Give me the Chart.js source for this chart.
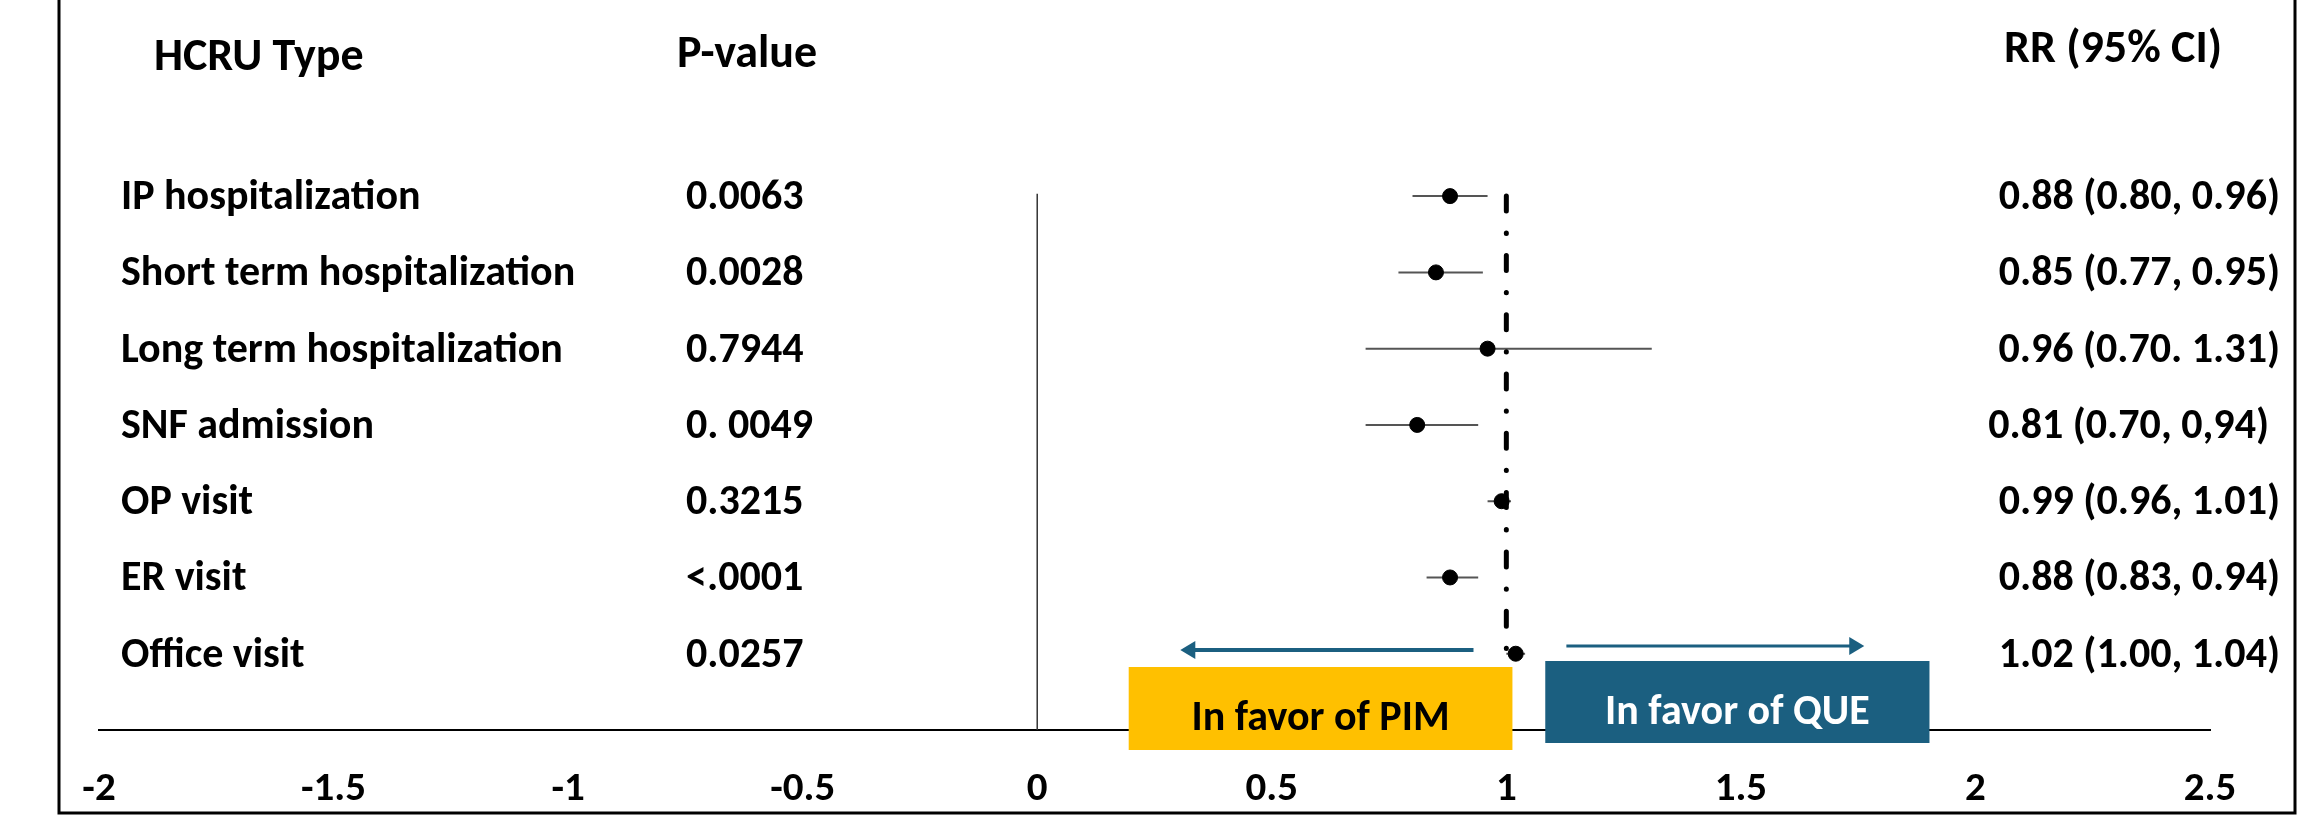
<!DOCTYPE html>
<html>
<head>
<meta charset="utf-8">
<script src="https://cdn.jsdelivr.net/npm/chart.js@4/dist/chart.umd.min.js"></script>
<style>
  html, body { margin: 0; padding: 0; background: #fff; }
  #wrap { width: 2305px; height: 828px; position: relative; }
</style>
</head>
<body>
<div id="wrap"><canvas id="myChart"></canvas></div>
<script>
// data
var categories = ['IP hospitalization', 'Short term hospitalization', 'Long term hospitalization',
                  'SNF admission', 'OP visit', 'ER visit', 'Office visit']
var pValues = ['0.0063', '0.0028', '0.7944', '0. 0049', '0.3215', '<.0001', '0.0257']
var rr = [0.88, 0.85, 0.96, 0.81, 0.99, 0.88, 1.02]
var ciLow = [0.80, 0.77, 0.70, 0.70, 0.96, 0.83, 1.00]
var ciHigh = [0.96, 0.95, 1.31, 0.94, 1.01, 0.94, 1.04]
var rrLabels = ['0.88 (0.80, 0.96)', '0.85 (0.77, 0.95)', '0.96 (0.70. 1.31)', '0.81 (0.70, 0,94)',
                '0.99 (0.96, 1.01)', '0.88 (0.83, 0.94)', '1.02 (1.00, 1.04)']
var xTicks = [-2, -1.5, -1, -0.5, 0, 0.5, 1, 1.5, 2, 2.5]

var FONT = 'Carlito, Calibri, Lato, sans-serif'
var teal = '#1b5f80'

var datasets = []
// point estimates (first so they draw on top)
datasets.push({
    label: 'RR',
    data: rr.map(function(v, i) { return {x: v, y: i} }),
    backgroundColor: '#000',
    borderColor: '#000',
    pointRadius: 7.5,
    pointHoverRadius: 7.5
})
// reference line at RR = 1 (dash-dot)
datasets.push({
    label: 'ref',
    data: [{x: 1, y: 0}, {x: 1, y: 6}],
    showLine: true,
    borderColor: '#000',
    borderWidth: 5,
    borderCapStyle: 'round',
    borderDash: [15, 22, 0.3, 22],
    pointRadius: 0
})
// confidence intervals
for (var i = 0; i < categories.length; i++) {
    datasets.push({
        label: 'ci' + i,
        data: [{x: ciLow[i], y: i}, {x: ciHigh[i], y: i}],
        showLine: true,
        borderColor: '#555',
        borderWidth: 2,
        pointRadius: 0
    })
}
// vertical line at 0
datasets.push({
    label: 'zero',
    data: [{x: 0, y: -0.03}, {x: 0, y: 7}],
    showLine: true,
    borderColor: '#333',
    borderWidth: 1.5,
    pointRadius: 0
})

function arrow(ctx, x1, x2, y, w) {
    // shaft from x1 to x2, head at x2
    var dir = x2 > x1 ? 1 : -1
    ctx.save()
    ctx.strokeStyle = teal
    ctx.fillStyle = teal
    ctx.lineWidth = w
    ctx.beginPath()
    ctx.moveTo(x1, y)
    ctx.lineTo(x2 - dir * 12, y)
    ctx.stroke()
    ctx.beginPath()
    ctx.moveTo(x2, y)
    ctx.lineTo(x2 - dir * 15, y - 9)
    ctx.lineTo(x2 - dir * 15, y + 9)
    ctx.closePath()
    ctx.fill()
    ctx.restore()
}

var tablePlugin = {
    id: 'table',
    afterDatasetsDraw: function(chart) {
        var ctx = chart.ctx
        var xs = chart.scales.x
        var ys = chart.scales.y
        ctx.save()
        ctx.fillStyle = '#000'
        ctx.textBaseline = 'alphabetic'

        // column headers
        ctx.font = 'bold 46px ' + FONT
        ctx.textAlign = 'left'
        ctx.fillText('HCRU Type', 154, 70)
        ctx.fillText('P-value', 677, 67)
        ctx.fillText('RR (95% CI)', 2004, 62)

        // rows
        ctx.font = 'bold 42px ' + FONT
        for (var i = 0; i < categories.length; i++) {
            var y = ys.getPixelForValue(i) + 13
            ctx.textAlign = 'left'
            ctx.fillText(categories[i], 121, y)
            ctx.fillText(pValues[i], 686, y)
            ctx.textAlign = 'right'
            ctx.fillText(rrLabels[i], i === 3 ? 2269 : 2280, y)
        }

        // favour boxes
        var yl = xs.getPixelForValue(0.195), yr = xs.getPixelForValue(1.013)
        ctx.fillStyle = '#ffc000'
        ctx.fillRect(yl, 667, yr - yl, 83)
        var bl = xs.getPixelForValue(1.083), br = xs.getPixelForValue(1.902)
        ctx.fillStyle = teal
        ctx.fillRect(bl, 661, br - bl, 82)
        ctx.font = 'bold 42px ' + FONT
        ctx.textAlign = 'center'
        ctx.fillStyle = '#000'
        ctx.fillText('In favor of PIM', (yl + yr) / 2, 730)
        ctx.fillStyle = '#fff'
        ctx.fillText('In favor of QUE', (bl + br) / 2, 724)

        // direction arrows
        arrow(ctx, xs.getPixelForValue(0.93), xs.getPixelForValue(0.305), 650, 4)
        arrow(ctx, xs.getPixelForValue(1.128), xs.getPixelForValue(1.763), 646, 3)
        ctx.restore()
    },
    afterDraw: function(chart) {
        // outer frame (top edge is cropped off in the original)
        var ctx = chart.ctx
        ctx.save()
        ctx.strokeStyle = '#000'
        ctx.lineWidth = 3
        ctx.beginPath()
        ctx.moveTo(59, 0)
        ctx.lineTo(59, 813)
        ctx.lineTo(2295, 813)
        ctx.lineTo(2295, 0)
        ctx.stroke()
        ctx.restore()
    }
}

var ctx = document.getElementById('myChart').getContext('2d')
var chart = new Chart(ctx, {
    type: 'scatter',
    data: { datasets: datasets },
    options: {
        responsive: true,
        maintainAspectRatio: false,
        animation: false,
        layout: { padding: { left: 99, right: 95, top: 0, bottom: 0 } },
        plugins: { legend: { display: false }, tooltip: { enabled: false } },
        scales: {
            x: {
                type: 'linear',
                min: -2,
                max: 2.5,
                afterBuildTicks: function(axis) {
                    axis.ticks = xTicks.map(function(v) { return {value: v} })
                },
                afterFit: function(axis) { axis.height = 98 },
                grid: { display: false, drawTicks: false },
                border: { display: true, color: '#000', width: 2 },
                ticks: {
                    color: '#000',
                    padding: 35,
                    maxRotation: 0,
                    font: { family: FONT, size: 41, weight: 'bold' },
                    callback: function(value) { return String(value) }
                }
            },
            y: {
                type: 'linear',
                min: -2.46,
                max: 7,
                reverse: true,
                display: false
            }
        }
    },
    plugins: [tablePlugin]
})
</script>
</body>
</html>
